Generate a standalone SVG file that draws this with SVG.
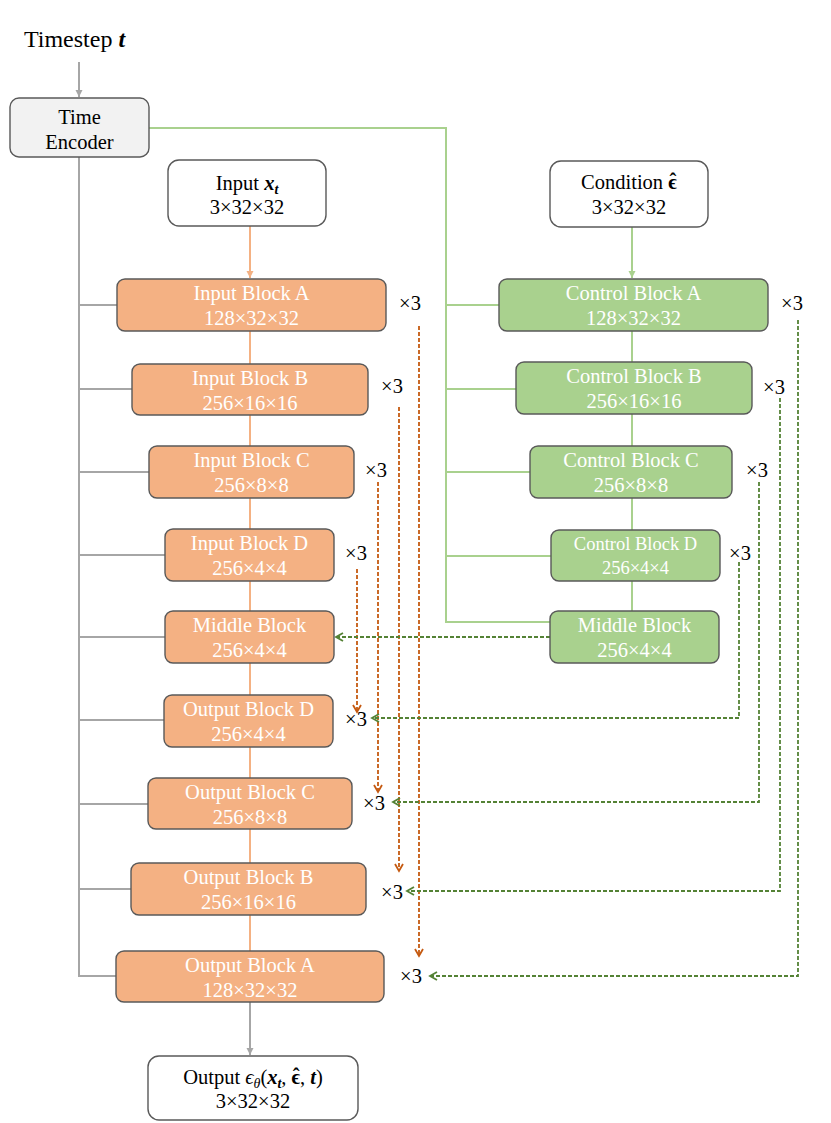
<svg xmlns="http://www.w3.org/2000/svg" width="831" height="1123" viewBox="0 0 831 1123">
<defs>
<style>
text{font-family:"Liberation Serif","Times New Roman",serif;font-size:20.5px;fill:#000;text-anchor:middle}
.w{fill:#fff}
.sm{font-size:18.5px}
.box{stroke:#595959;stroke-width:1.4}
.or{fill:#f4b183}
.gr{fill:#a9d18e}
.wh{fill:#fff}
.te{fill:#f2f2f2}
.lg{stroke:#a6a6a6;stroke-width:2;fill:none}
.lo{stroke:#f4b183;stroke-width:2;fill:none}
.lgr{stroke:#a9d18e;stroke-width:2;fill:none}
.do{stroke:#c55a11;stroke-width:1.8;fill:none;stroke-dasharray:4 2}
.dg{stroke:#548235;stroke-width:1.8;fill:none;stroke-dasharray:4 2}
.bi{font-weight:bold;font-style:italic}
.b{font-weight:bold}
.it{font-style:italic}
</style>
<marker id="aGrey" markerUnits="userSpaceOnUse" markerWidth="8" markerHeight="8" refX="7" refY="4" orient="auto"><path d="M0,0.5 L7,4 L0,7.5 z" fill="#a6a6a6"/></marker>
<marker id="aOr" markerUnits="userSpaceOnUse" markerWidth="8" markerHeight="8" refX="7" refY="4" orient="auto"><path d="M0,0.5 L7,4 L0,7.5 z" fill="#f4b183"/></marker>
<marker id="aGr" markerUnits="userSpaceOnUse" markerWidth="8" markerHeight="8" refX="7" refY="4" orient="auto"><path d="M0,0.5 L7,4 L0,7.5 z" fill="#a9d18e"/></marker>
<marker id="cOr" markerUnits="userSpaceOnUse" markerWidth="10" markerHeight="10" refX="8" refY="5" orient="auto"><path d="M1,1 L8,5 L1,9" fill="none" stroke="#c55a11" stroke-width="1.8" stroke-dasharray="none"/></marker>
<marker id="cGr" markerUnits="userSpaceOnUse" markerWidth="10" markerHeight="10" refX="8" refY="5" orient="auto"><path d="M1,1 L8,5 L1,9" fill="none" stroke="#548235" stroke-width="1.8" stroke-dasharray="none"/></marker>
</defs>
<rect width="831" height="1123" fill="#fff"/>

<g id="connectors">
<path class="lg" d="M79,62 V97" marker-end="url(#aGrey)"/>
<path class="lg" d="M79,157 V977"/>
<path class="lg" d="M79,305 H117 M79,389 H132 M79,472 H149 M79,555 H165 M79,637 H165 M79,720 H164 M79,804 H148 M79,889 H131 M79,976 H116"/>
<path class="lgr" d="M149,128 H446 V622 H550"/>
<path class="lgr" d="M446,305 H499 M446,389 H516 M446,472 H530 M446,556 H551"/>
<path class="lo" d="M250,226 V278" marker-end="url(#aOr)"/>
<path class="lo" d="M250,331 V364 M250,415 V446 M250,498 V529 M250,581 V611 M250,663 V695 M250,747 V778 M250,829 V863 M250,915 V951"/>
<path class="lg" d="M250,1002 V1055" marker-end="url(#aGrey)"/>
<path class="lgr" d="M632,227 V278" marker-end="url(#aGr)"/>
<path class="lgr" d="M632,331 V362 M632,414 V446 M632,498 V530 M632,581 V611"/>
<path class="do" d="M419,326 V956" marker-end="url(#cOr)"/>
<path class="do" d="M399,407 V871" marker-end="url(#cOr)"/>
<path class="do" d="M378,482 V792" marker-end="url(#cOr)"/>
<path class="do" d="M357,569 V712" marker-end="url(#cOr)"/>
<path class="dg" d="M550,637 H336" marker-end="url(#cGr)"/>
<path class="dg" d="M739,562 V718 H372" marker-end="url(#cGr)"/>
<path class="dg" d="M759,482 V802 H393" marker-end="url(#cGr)"/>
<path class="dg" d="M780,398 V891 H407" marker-end="url(#cGr)"/>
<path class="dg" d="M798,320 V976 H430" marker-end="url(#cGr)"/>
</g>

<g id="timestep"><text x="74.5" y="47" style="font-size:24px">Timestep <tspan class="bi">t</tspan></text></g>

<g id="time-encoder">
<rect class="box te" x="10" y="98" width="139" height="59" rx="9"/>
<text x="79.5" y="124">Time</text>
<text x="79.5" y="149">Encoder</text>
</g>

<g id="input-xt">
<rect class="box wh" x="168" y="160" width="158" height="66" rx="11"/>
<text x="247" y="190">Input <tspan class="bi">x</tspan><tspan class="bi" style="font-size:14px" dy="4">t</tspan></text>
<text x="247" y="214">3×32×32</text>
</g>

<g id="condition">
<rect class="box wh" x="550" y="161" width="158" height="66" rx="11"/>
<text x="629" y="189">Condition <tspan class="b">ϵ</tspan><tspan class="b" dx="-7.5" dy="-1">ˆ</tspan><tspan dx="0.5" dy="1"> </tspan></text>
<text x="629" y="214">3×32×32</text>
</g>

<g id="input-block-a">
<rect class="box or" x="117" y="279" width="269" height="52" rx="8"/>
<text class="w" x="251.5" y="300">Input Block A</text>
<text class="w" x="251.5" y="325">128×32×32</text>
</g>
<g id="input-block-b">
<rect class="box or" x="132" y="364" width="236" height="51" rx="8"/>
<text class="w" x="250" y="385">Input Block B</text>
<text class="w" x="250" y="410">256×16×16</text>
</g>
<g id="input-block-c">
<rect class="box or" x="149" y="446" width="205" height="52" rx="8"/>
<text class="w" x="251.5" y="467">Input Block C</text>
<text class="w" x="251.5" y="492">256×8×8</text>
</g>
<g id="input-block-d">
<rect class="box or" x="165" y="529" width="169" height="52" rx="8"/>
<text class="w" x="249.5" y="550">Input Block D</text>
<text class="w" x="249.5" y="575">256×4×4</text>
</g>
<g id="middle-block">
<rect class="box or" x="165" y="611" width="169" height="52" rx="8"/>
<text class="w" x="249.5" y="632">Middle Block</text>
<text class="w" x="249.5" y="657">256×4×4</text>
</g>
<g id="output-block-d">
<rect class="box or" x="164" y="695" width="169" height="52" rx="8"/>
<text class="w" x="248.5" y="716">Output Block D</text>
<text class="w" x="248.5" y="741">256×4×4</text>
</g>
<g id="output-block-c">
<rect class="box or" x="148" y="778" width="204" height="51" rx="8"/>
<text class="w" x="250" y="799">Output Block C</text>
<text class="w" x="250" y="824">256×8×8</text>
</g>
<g id="output-block-b">
<rect class="box or" x="131" y="863" width="235" height="52" rx="8"/>
<text class="w" x="248.5" y="884">Output Block B</text>
<text class="w" x="248.5" y="909">256×16×16</text>
</g>
<g id="output-block-a">
<rect class="box or" x="116" y="951" width="268" height="51" rx="8"/>
<text class="w" x="250" y="972">Output Block A</text>
<text class="w" x="250" y="997">128×32×32</text>
</g>

<g id="control-block-a">
<rect class="box gr" x="499" y="279" width="269" height="52" rx="8"/>
<text class="w" x="633.5" y="300">Control Block A</text>
<text class="w" x="633.5" y="325">128×32×32</text>
</g>
<g id="control-block-b">
<rect class="box gr" x="516" y="362" width="236" height="52" rx="8"/>
<text class="w" x="634" y="383">Control Block B</text>
<text class="w" x="634" y="408">256×16×16</text>
</g>
<g id="control-block-c">
<rect class="box gr" x="530" y="446" width="202" height="52" rx="8"/>
<text class="w" x="631" y="467">Control Block C</text>
<text class="w" x="631" y="492">256×8×8</text>
</g>
<g id="control-block-d">
<rect class="box gr" x="551" y="530" width="169" height="51" rx="8"/>
<text class="w sm" x="635.5" y="550">Control Block D</text>
<text class="w sm" x="635.5" y="574">256×4×4</text>
</g>
<g id="control-middle-block">
<rect class="box gr" x="550" y="611" width="169" height="52" rx="8"/>
<text class="w" x="634.5" y="632">Middle Block</text>
<text class="w" x="634.5" y="657">256×4×4</text>
</g>

<g id="output">
<rect class="box wh" x="148" y="1056" width="210" height="64" rx="11"/>
<text x="253" y="1084">Output <tspan class="it">ϵ</tspan><tspan class="it" style="font-size:14px" dy="4">θ</tspan><tspan dy="-4">(</tspan><tspan class="bi">x</tspan><tspan class="bi" style="font-size:14px" dy="4">t</tspan><tspan dy="-4">, </tspan><tspan class="b">ϵ</tspan><tspan class="b" dx="-7.5" dy="-1">ˆ</tspan><tspan dx="0.5" dy="1">, </tspan><tspan class="bi">t</tspan>)</text>
<text x="253" y="1108">3×32×32</text>
</g>

<g id="repeat-labels">
<text x="410" y="310">×3</text>
<text x="392" y="393">×3</text>
<text x="376" y="477">×3</text>
<text x="356" y="560">×3</text>
<text x="356" y="726">×3</text>
<text x="374" y="810">×3</text>
<text x="392" y="899">×3</text>
<text x="411" y="983">×3</text>
<text x="792" y="310">×3</text>
<text x="774" y="394">×3</text>
<text x="757" y="477">×3</text>
<text x="740" y="560">×3</text>
</g>
</svg>
